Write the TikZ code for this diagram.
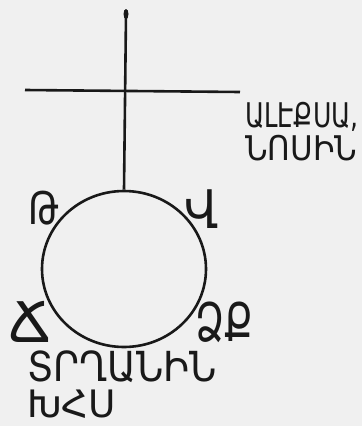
\documentclass[tikz,border=0pt]{standalone}
\usepackage{fontspec}
\usetikzlibrary{shapes.geometric}
\newfontfamily\armfont{DejaVu Sans}
\newcommand{\arm}[4]{{\armfont\fontsize{#1}{#1}\selectfont\scalebox{#2}[#3]{#4}}}
\begin{document}
\begin{tikzpicture}[x=1pt,y=-1pt,
  ink/.style={line width=2.6pt,black!90},
  lbl/.style={inner sep=0pt,anchor=west,text=black!90}]
\fill[gray!12] (0,0) rectangle (362,426);
\useasboundingbox (0,0) rectangle (362,426);
\coordinate (top) at (126,14);
\coordinate (hl) at (25,90);
\coordinate (hr) at (240,92);
\node[draw,ink,ellipse,minimum width=164pt,minimum height=156pt,inner sep=0pt] (c) at (124,269) {};
\draw[ink] (top) -- (c.north);
\fill[black!90] (top) ellipse (2.5pt and 5pt);
\draw[ink] (hl) -- (hr);
\node[lbl] (t1) at (28,208) {\arm{36}{1.0}{1.25}{Թ}};
\node[lbl] (t2) at (184,209) {\arm{38}{1.2}{1.4}{Վ}};
\node[lbl] (t3) at (8,322) {\arm{40}{1.4}{1.4}{Ճ}};
\node[lbl] (t4) at (195,322) {\arm{38}{1.0}{1.4}{ՁՔ}};
\node[lbl] (a1) at (245,117) {\arm{34}{0.74}{1.0}{ԱԼԷՔՍԱ,}};
\node[lbl] (a2) at (245,148) {\arm{34}{0.91}{1.0}{ՆՈՍԻՆ}};
\node[lbl] (b1) at (27,367) {\arm{36}{1.04}{1.15}{ՏՐՂԱՆԻՆ}};
\node[lbl] (b2) at (27,404) {\arm{36}{1.04}{1.05}{ԽՀՍ}};
\end{tikzpicture}
\end{document}
